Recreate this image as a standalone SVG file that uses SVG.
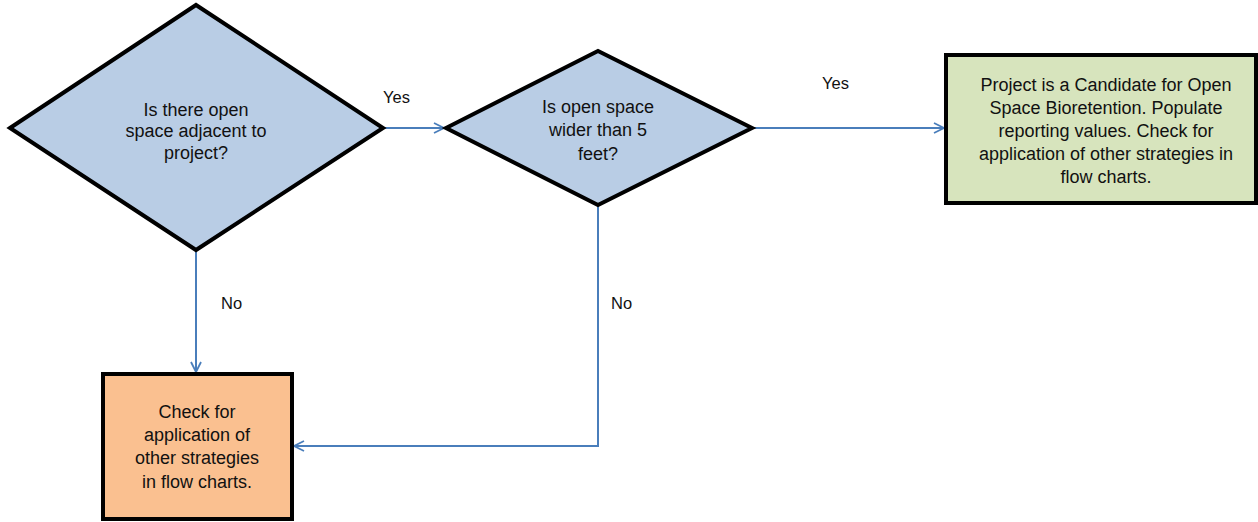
<svg xmlns="http://www.w3.org/2000/svg" width="1258" height="522" viewBox="0 0 1258 522">
<defs>
<marker id="arr" viewBox="0 0 12 12" refX="11" refY="6" markerWidth="12" markerHeight="12" markerUnits="userSpaceOnUse" orient="auto">
<polyline points="1,1 11,6 1,11" fill="none" stroke="#4a7ebb" stroke-width="1.8"/>
</marker>
<style>
.d{fill:#b9cde5;stroke:#000;stroke-width:4;stroke-linejoin:miter}
.g{fill:#d7e4bd;stroke:#000;stroke-width:4}
.o{fill:#fac090;stroke:#000;stroke-width:4}
.c{fill:none;stroke:#4a7ebb;stroke-width:2;marker-end:url(#arr)}
text{font-family:"Liberation Sans",Arial,sans-serif;font-size:18px;fill:#111;text-anchor:middle;dominant-baseline:central}
.l{text-anchor:start;font-size:16.5px}
</style>
</defs>
<rect width="1258" height="522" fill="#fff"/>
<g id="connectors">
<path class="c" d="M383,128 H444"/>
<path class="c" d="M752,128 H944"/>
<path class="c" d="M196,250 V372"/>
<path class="c" d="M598,205 V446 H294"/>
<text class="l" x="383" y="97">Yes</text>
<text class="l" x="822" y="83">Yes</text>
<text class="l" x="221" y="303">No</text>
<text class="l" x="611" y="303">No</text>
</g>
<g id="q1">
<polygon class="d" points="10,128 196,5 383,128 196,250"/>
<text x="196" y="110">Is there open</text>
<text x="196" y="131">space adjacent to</text>
<text x="196" y="153">project?</text>
</g>
<g id="q2">
<polygon class="d" points="446,128 598,51 752,128 598,205"/>
<text x="598" y="107">Is open space</text>
<text x="598" y="130">wider than 5</text>
<text x="598" y="154">feet?</text>
</g>
<g id="candidate">
<rect class="g" x="946" y="55" width="310" height="148"/>
<text x="1106" y="85">Project is a Candidate for Open</text>
<text x="1106" y="108">Space Bioretention. Populate</text>
<text x="1106" y="131">reporting values. Check for</text>
<text x="1106" y="154">application of other strategies in</text>
<text x="1106" y="177">flow charts.</text>
</g>
<g id="other">
<rect class="o" x="103" y="374" width="189" height="145"/>
<text x="197" y="412">Check for</text>
<text x="197" y="435">application of</text>
<text x="197" y="458">other strategies</text>
<text x="197" y="482">in flow charts.</text>
</g>
</svg>
